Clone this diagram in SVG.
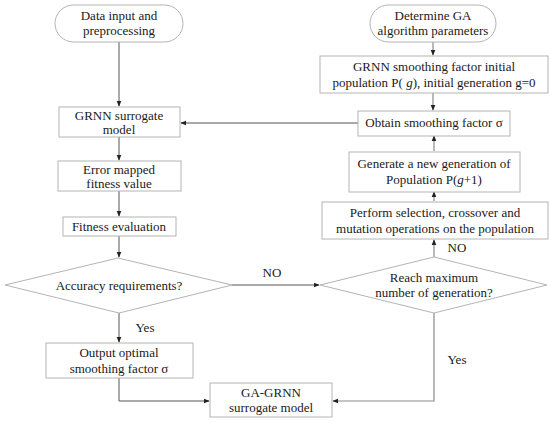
<svg xmlns="http://www.w3.org/2000/svg" width="550" height="423" viewBox="0 0 550 423">
<style>
.box{fill:#fff;stroke:#b4b4b4;stroke-width:1}
.t{font-size:13px;fill:#1a1a1a;text-anchor:middle}
.ln{fill:none;stroke:#555;stroke-width:1}
.lg{fill:none;stroke:#8a8a8a;stroke-width:1.2}
</style>
<defs>
<marker id="ah" viewBox="0 0 8 8" refX="7" refY="4" markerWidth="6" markerHeight="6" markerUnits="userSpaceOnUse" orient="auto">
<path d="M0,0.8 L8,4 L0,7.2 z" fill="#222"/>
</marker>
</defs>
<rect width="550" height="423" fill="#fff"/>
<g font-family="'Liberation Serif', 'Times New Roman', serif">
<g id="connectors">
<line class="ln" x1="119" y1="42" x2="119" y2="106" marker-end="url(#ah)"/>
<line class="ln" x1="119" y1="137" x2="119" y2="160" marker-end="url(#ah)"/>
<line class="ln" x1="119" y1="191" x2="119" y2="216" marker-end="url(#ah)"/>
<line class="ln" x1="119" y1="236" x2="119" y2="257" marker-end="url(#ah)"/>
<line class="ln" x1="119" y1="313" x2="119" y2="342" marker-end="url(#ah)"/>
<polyline class="ln" points="119,378 119,401 209,401" marker-end="url(#ah)"/>
<line class="ln" x1="232" y1="285" x2="319" y2="285" marker-end="url(#ah)"/>
<line class="ln" x1="358" y1="123" x2="181" y2="123" marker-end="url(#ah)"/>
<line class="lg" x1="433" y1="42" x2="433" y2="55" marker-end="url(#ah)"/>
<line class="lg" x1="433" y1="93" x2="433" y2="110" marker-end="url(#ah)"/>
<line class="lg" x1="434" y1="151" x2="434" y2="136" marker-end="url(#ah)"/>
<line class="lg" x1="434" y1="201" x2="434" y2="192" marker-end="url(#ah)"/>
<line class="lg" x1="434" y1="257" x2="434" y2="240" marker-end="url(#ah)"/>
<polyline class="lg" points="434,313 434,401 333,401" marker-end="url(#ah)"/>
<text class="t" x="272" y="277">NO</text>
<text class="t" x="457" y="252">NO</text>
<text class="t" x="145" y="332">Yes</text>
<text class="t" x="457" y="364">Yes</text>
</g>
<g id="n_data">
<rect class="box" x="55" y="5" width="128" height="37" rx="18.5"/>
<text class="t" x="119" y="20">Data input and</text>
<text class="t" x="119" y="35">preprocessing</text>
</g>
<g id="n_grnn">
<rect class="box" x="59" y="107" width="121" height="30"/>
<text class="t" x="119" y="120">GRNN surrogate</text>
<text class="t" x="119" y="134">model</text>
</g>
<g id="n_error">
<rect class="box" x="58" y="161" width="123" height="30"/>
<text class="t" x="119" y="174">Error mapped</text>
<text class="t" x="119" y="188">fitness value</text>
</g>
<g id="n_fitness">
<rect class="box" x="63" y="217" width="113" height="19"/>
<text class="t" x="119" y="231">Fitness evaluation</text>
</g>
<g id="n_accuracy">
<polygon class="box" points="118,258 232,285 119,313 5,285"/>
<text class="t" x="119" y="290">Accuracy requirements?</text>
</g>
<g id="n_output">
<rect class="box" x="46" y="343" width="147" height="35"/>
<text class="t" x="119" y="357">Output optimal</text>
<text class="t" x="119" y="373">smoothing factor σ</text>
</g>
<g id="n_gagrnn">
<rect class="box" x="210" y="383" width="122" height="34"/>
<text class="t" x="271" y="397">GA-GRNN</text>
<text class="t" x="271" y="412">surrogate model</text>
</g>
<g id="n_determine">
<rect class="box" x="370" y="5" width="126" height="37" rx="18.5"/>
<text class="t" x="433" y="20">Determine GA</text>
<text class="t" x="433" y="35">algorithm parameters</text>
</g>
<g id="n_init">
<rect class="box" x="320" y="56" width="228" height="37"/>
<text class="t" x="434" y="71">GRNN smoothing factor initial</text>
<text class="t" x="434" y="87">population P( <tspan font-style="italic">g</tspan>), initial generation g=0</text>
</g>
<g id="n_obtain">
<rect class="box" x="358" y="111" width="152" height="25"/>
<text class="t" x="434" y="127">Obtain smoothing factor σ</text>
</g>
<g id="n_generate">
<rect class="box" x="349" y="152" width="171" height="40"/>
<text class="t" x="434" y="168">Generate a new generation of</text>
<text class="t" x="434" y="184">Population P(<tspan font-style="italic">g</tspan>+1)</text>
</g>
<g id="n_perform">
<rect class="box" x="322" y="202" width="226" height="37"/>
<text class="t" x="435" y="217">Perform selection, crossover and</text>
<text class="t" x="435" y="233">mutation operations on the population</text>
</g>
<g id="n_reach">
<polygon class="box" points="434,257 547,285 434,313 320,285"/>
<text class="t" x="434" y="282">Reach maximum</text>
<text class="t" x="434" y="297">number of generation?</text>
</g>
</g>
</svg>
